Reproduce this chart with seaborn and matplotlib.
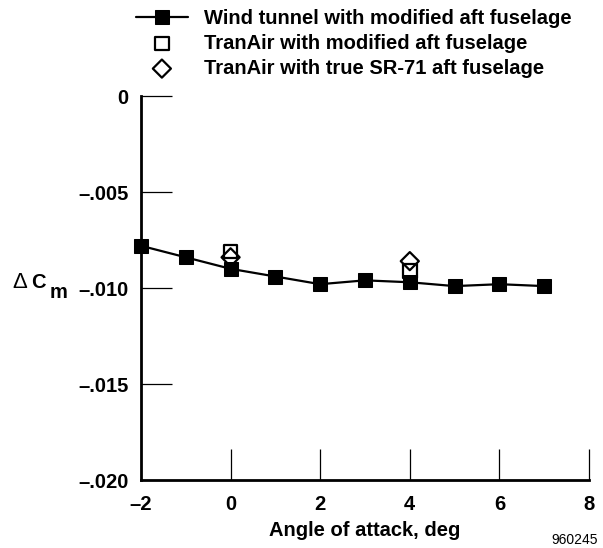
import numpy as np
import pandas as pd
import seaborn as sns
import matplotlib.pyplot as plt

# data
alpha_wt = [-2, -1, 0, 1, 2, 3, 4, 5, 6, 7]
dcm_wt = [-0.0078, -0.0084, -0.0090, -0.0094, -0.0098, -0.0096, -0.0097, -0.0099, -0.0098, -0.0099]
alpha_tran_mod = [0, 4]
dcm_tran_mod = [-0.0081, -0.0091]
alpha_tran_true = [0, 4]
dcm_tran_true = [-0.0084, -0.0086]

x_ticks = [-2, 0, 2, 4, 6, 8]
x_ticklabels = ['\u20132', '0', '2', '4', '6', '8']
y_ticks = [0, -0.005, -0.010, -0.015, -0.020]
y_ticklabels = ['0', '\u2013.005', '\u2013.010', '\u2013.015', '\u2013.020']

sns.set_style('white')
plt.rcParams['font.family'] = ['Liberation Sans', 'DejaVu Sans']
plt.rcParams['text.color'] = 'black'
plt.rcParams['axes.labelcolor'] = 'black'
plt.rcParams['xtick.color'] = 'black'
plt.rcParams['ytick.color'] = 'black'

FS = 14.5

fig = plt.figure(figsize=(6.03, 5.48), dpi=100)
ax = fig.add_axes([0.2338, 0.124, 0.743, 0.7008])

wt = pd.DataFrame({'alpha': alpha_wt, 'dcm': dcm_wt})
sns.lineplot(data=wt, x='alpha', y='dcm', ax=ax, color='black', lw=1.6,
             marker='s', markersize=10, markeredgecolor='black', clip_on=False,
             label='Wind tunnel with modified aft fuselage')
sns.scatterplot(x=alpha_tran_mod, y=dcm_tran_mod, ax=ax, marker='s', s=95,
                facecolor='none', edgecolor='black', linewidth=1.6,
                label='TranAir with modified aft fuselage', zorder=4)
sns.scatterplot(x=alpha_tran_true, y=dcm_tran_true, ax=ax, marker='D', s=85,
                facecolor='none', edgecolor='black', linewidth=1.6,
                label='TranAir with true SR-71 aft fuselage', zorder=5)

ax.set_xlim(-2, 8)
ax.set_ylim(-0.020, 0)
ax.set_xticks(x_ticks)
ax.set_xticklabels(x_ticklabels)
ax.set_yticks(y_ticks)
ax.set_yticklabels(y_ticklabels)

for s in ['top', 'right']:
    ax.spines[s].set_visible(False)
for s in ['left', 'bottom']:
    ax.spines[s].set_linewidth(2)
    ax.spines[s].set_color('black')

ax.tick_params(axis='both', bottom=True, left=True, direction='in', length=22,
               width=0.9, labelsize=FS)
ax.tick_params(axis='y', pad=9)
ax.tick_params(axis='x', pad=10.5)
for lab in ax.get_xticklabels() + ax.get_yticklabels():
    lab.set_fontweight('bold')
# no tick marks on top of the spines themselves
ax.xaxis.get_major_ticks()[0].tick1line.set_visible(False)
ax.yaxis.get_major_ticks()[-1].tick1line.set_visible(False)

ax.set_xlabel('Angle of attack, deg', fontsize=FS, fontweight='bold', labelpad=5)
ax.set_ylabel('')

# Delta C_m label
fig.text(0.021, 0.485, '\u0394', fontsize=16, va='center', ha='left')
fig.text(0.052, 0.485, 'C', fontsize=FS, fontweight='bold', va='center', ha='left')
fig.text(0.082, 0.467, 'm', fontsize=FS, fontweight='bold', va='center', ha='left')

fig.text(0.992, 0.015, '960245', fontsize=10, ha='right', va='center')

ax.legend(loc='upper left', bbox_to_anchor=(0.205, 1.006), bbox_transform=fig.transFigure,
          frameon=False, prop={'weight': 'bold', 'size': FS}, handlelength=2.6,
          handletextpad=0.8, labelspacing=0.3, borderpad=0.1)

fig.savefig('out.png', dpi=100)
